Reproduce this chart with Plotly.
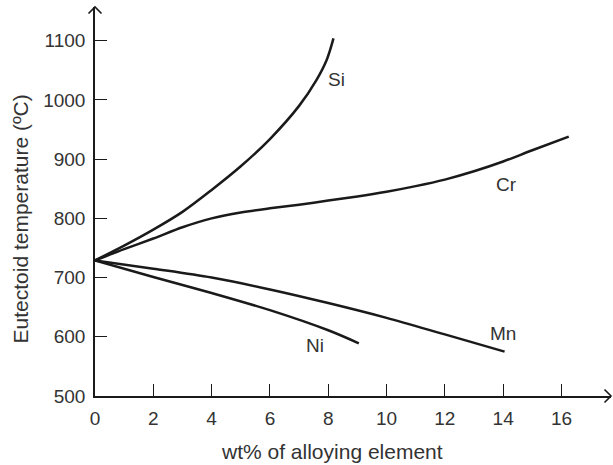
import plotly.graph_objects as go

# ---- data ----
si_x = [0, 1, 2, 3, 4, 5, 6, 7, 7.6, 7.95, 8.18]
si_y = [729, 754, 781, 811, 848, 888, 934, 990, 1034, 1068, 1104]

cr_x = [0, 1, 2, 3, 4, 5, 6, 7, 8, 9, 10, 11, 12, 13, 14, 15, 16.25]
cr_y = [729, 748, 766, 785, 800, 810, 817, 823, 830, 837, 845, 854.5, 865.5, 879.5, 896, 915, 938]

mn_x = [0, 2, 4, 6, 8, 10, 12, 14.05]
mn_y = [729, 715, 700, 680, 657, 632, 604, 575]

ni_x = [0, 2, 4, 6, 8, 9.05]
ni_y = [729, 701, 674, 645, 611, 589]

label_text = ["Si", "Cr", "Mn", "Ni"]
label_x = [8.29, 14.12, 13.98, 7.55]
label_y = [1034, 858, 606, 585]

x_ticks = [0, 2, 4, 6, 8, 10, 12, 14, 16]
y_ticks = [500, 600, 700, 800, 900, 1000, 1100]

x_title = "wt% of alloying element"
y_title = "Eutectoid temperature (ºC)"

FONT = "Liberation Sans, Arial, Helvetica, sans-serif"
TXT = "#333333"
LINE = "#1a1a1a"

fig = go.Figure()
for xs, ys in [(si_x, si_y), (cr_x, cr_y), (mn_x, mn_y), (ni_x, ni_y)]:
    fig.add_trace(go.Scatter(x=xs, y=ys, mode="lines",
                             line=dict(color=LINE, width=2.5, shape="spline", smoothing=0.9),
                             showlegend=False, hoverinfo="skip"))

for t, lx, ly in zip(label_text, label_x, label_y):
    fig.add_annotation(x=lx, y=ly, text=t, showarrow=False,
                       font=dict(family=FONT, size=19, color=TXT))

W, H = 613, 465
ml, mr, mt, mb = 95, 2, 7, 69
pw, ph = W - ml - mr, H - mt - mb
ax = 6.5 / pw
ay = 6.5 / ph

# axis titles placed as annotations (reference titles are off-centre)
fig.add_annotation(xref="paper", yref="paper", x=(332 - ml) / pw, y=(ph + mt - 451) / ph,
                   text=x_title, showarrow=False, xanchor="center", yanchor="middle",
                   font=dict(family=FONT, size=21, color=TXT))
fig.add_annotation(xref="paper", yref="paper", x=(19.5 - ml) / pw, y=(ph + mt - 219) / ph,
                   text=y_title, showarrow=False, textangle=-90, xanchor="center", yanchor="middle",
                   font=dict(family=FONT, size=21, color=TXT))

fig.update_layout(
    width=W, height=H,
    margin=dict(l=ml, r=mr, t=mt, b=mb),
    plot_bgcolor="white", paper_bgcolor="white",
    font=dict(family=FONT, size=19, color=TXT),
    xaxis=dict(range=[0, 17.70], tickvals=x_ticks, ticks="inside", ticklen=12,
               tickwidth=1.3, tickcolor=LINE, showline=True, linecolor=LINE,
               linewidth=1.5, showgrid=False, zeroline=False, ticklabelstandoff=4,
               tickfont=dict(size=19, color=TXT, family=FONT)),
    yaxis=dict(range=[500, 1157], tickvals=y_ticks, ticks="inside", ticklen=12,
               tickwidth=1.3, tickcolor=LINE, showline=True, linecolor=LINE,
               linewidth=1.5, showgrid=False, zeroline=False, ticklabelstandoff=4,
               tickfont=dict(size=19, color=TXT, family=FONT)),
    shapes=[
        dict(type="path", xref="paper", yref="paper",
             path=f"M {-ax} {1 - ay} L 0 1 L {ax} {1 - ay}",
             line=dict(color=LINE, width=1.6)),
        dict(type="path", xref="paper", yref="paper",
             path=f"M {1 - ax} {ay} L 1 0 L {1 - ax} {-ay}",
             line=dict(color=LINE, width=1.6)),
    ],
)

fig.write_html("out.html")
